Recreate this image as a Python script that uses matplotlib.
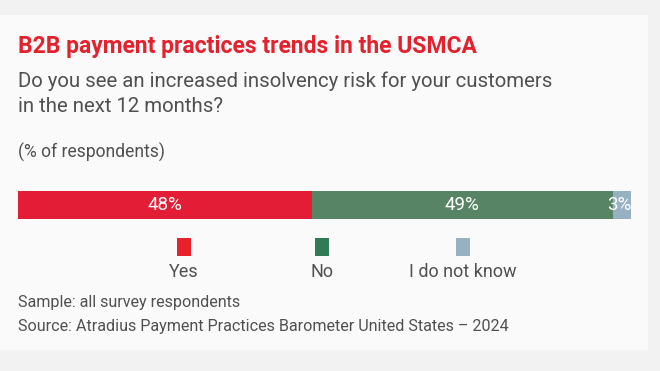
import matplotlib
matplotlib.use("Agg")
import matplotlib.pyplot as plt
from matplotlib.patches import Rectangle
from matplotlib import font_manager

categories = ["Yes", "No", "I do not know"]
values = [48, 49, 3]
bar_colors = ["#e31d36", "#588466", "#98b1c2"]
legend_colors = ["#e8222c", "#2f7b55", "#98b1c2"]

title = "B2B payment practices trends in the USMCA"
subtitle_lines = ["Do you see an increased insolvency risk for your customers",
                  "in the next 12 months?"]
unit = "(% of respondents)"
footer1 = "Sample: all survey respondents"
footer2 = "Source: Atradius Payment Practices Barometer United States \u2013 2024"

names = {f.name for f in font_manager.fontManager.ttflist}
fam = "Roboto" if "Roboto" in names else "Liberation Sans"
plt.rcParams["font.family"] = [fam, "DejaVu Sans"]

W, H = 660, 371
fig = plt.figure(figsize=(W / 100, H / 100), dpi=100)
fig.patch.set_facecolor("#f2f2f2")
renderer = fig.canvas.get_renderer()

def fx(x): return x / W
def fy(y): return 1 - y / H

def fit_text(x, y, s, target_w, base=12, **kw):
    t = fig.text(fx(x), fy(y), s, fontsize=base, **kw)
    w = t.get_window_extent(renderer).width
    t.set_fontsize(base * target_w / w)
    return t

# panel
fig.patches.append(Rectangle((0, fy(350)), fx(648), fy(15) - fy(350),
                             transform=fig.transFigure, facecolor="#fafafa",
                             edgecolor="none", zorder=-5))

fit_text(18, 47, title, 458, color="#e3222d", fontweight="bold", va="center", ha="left")
t1 = fit_text(18, 81, subtitle_lines[0], 534, color="#505050", va="center", ha="left")
fig.text(fx(18), fy(106), subtitle_lines[1], color="#505050", fontsize=t1.get_fontsize(),
         va="center", ha="left")
fit_text(18, 152, unit, 147, color="#505050", va="center", ha="left")

ax = fig.add_axes([fx(18), fy(219), fx(631) - fx(18), fy(191) - fy(219)], zorder=2)
left = 0
for v, c in zip(values, bar_colors):
    ax.barh(0, v, left=left, color=c, height=1.0, edgecolor="none")
    cx = left + v / 2 if v > 5 else left + v + 0.1
    ha = "center" if v > 5 else "right"
    ax.text(cx, 0, f"{v}%", color="white", fontsize=13.5, ha=ha, va="center",
            clip_on=True)
    left += v
ax.set_xlim(0, sum(values))
ax.set_ylim(-0.5, 0.5)
ax.axis("off")

# legend
leg_x = [184, 322, 463]
for x, c, lab in zip(leg_x, legend_colors, categories):
    fig.patches.append(Rectangle((fx(x - 7), fy(256)), fx(14), fy(238) - fy(256),
                                 transform=fig.transFigure, facecolor=c,
                                 edgecolor="none", zorder=1))
    fig.text(fx(x), fy(272), lab, color="#505050", fontsize=13, ha="center", va="center")

f2 = fit_text(18, 326, footer2, 490, color="#505050", va="center", ha="left")
fig.text(fx(18), fy(303), footer1, color="#505050", fontsize=f2.get_fontsize(),
         va="center", ha="left")

fig.savefig("out.png", dpi=100, facecolor=fig.get_facecolor())
